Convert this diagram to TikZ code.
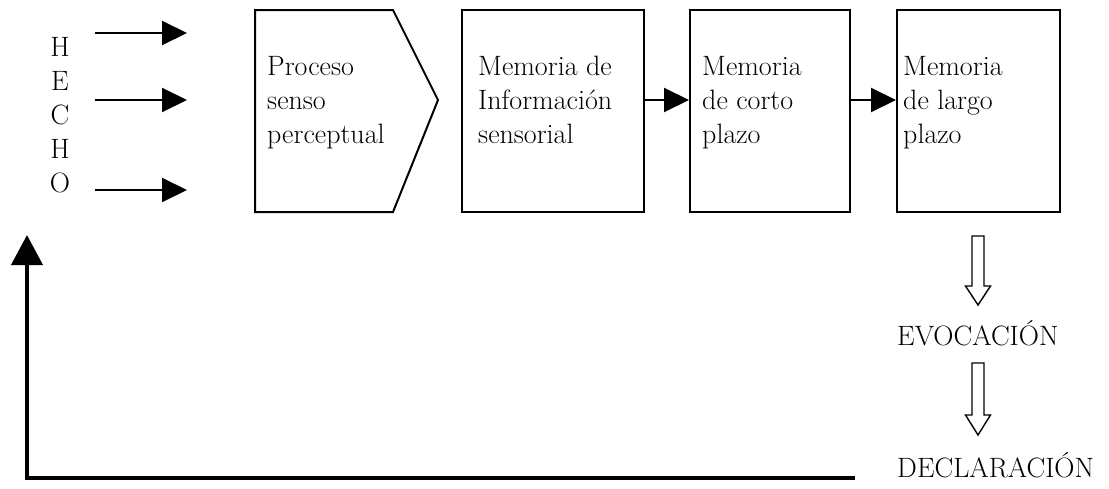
\documentclass[tikz,border=0pt]{standalone}
\usepackage{fontspec}
\usepackage{tikz}
\usetikzlibrary{shapes,arrows,arrows.meta,positioning,calc}

\begin{document}
\begin{tikzpicture}[x=1pt,y=-1pt,
    font=\fontsize{28}{34}\selectfont,
    membox/.style={shape=rectangle,draw,line width=2pt,minimum height=202pt,inner sep=0pt},
    memtext/.style={anchor=north west,align=left,inner sep=0pt},
    flecha/.style={line width=2pt,-{Triangle[length=25pt,width=24pt]}}]
    \useasboundingbox (0,0) rectangle (1109,488);

    % hecho
    \node[align=center,inner sep=0pt] (hecho) at (60,115) {H\\E\\C\\H\\O};
    \foreach \y [count=\i] in {33,100,190} {
      \coordinate (s\i) at (95,\y);
      \coordinate (e\i) at (187,\y);
      \draw[flecha] (s\i) -- (e\i);
    }

    % proceso
    \coordinate (p1) at (255,10);
    \coordinate (p2) at (393,10);
    \coordinate (p3) at (438,100);
    \coordinate (p4) at (393,212);
    \coordinate (p5) at (255,212);
    \draw[line width=2pt,line join=miter] (p1) -- (p2) -- (p3) -- (p4) -- (p5) -- cycle;
    \node[memtext] (proc) at (267,56) {Proceso\\senso\\perceptual};

    % define boxes
    \node[membox,minimum width=182pt] (m1) at (553,111) {};
    \node[membox,minimum width=160pt] (m2) at (770,111) {};
    \node[membox,minimum width=163pt] (m3) at (978.5,111) {};
    \node[memtext] (t1) at (478,56) {Memoria de\\Información\\sensorial};
    \node[memtext] (t2) at (702,56) {Memoria\\de corto\\plazo};
    \node[memtext] (t3) at (903,56) {Memoria\\de largo\\plazo};

    % arrows
    \coordinate (lvl) at (0,100);
    \draw[flecha] (m1.east |- lvl) -- (m2.west |- lvl);
    \draw[flecha] (m2.east |- lvl) -- (m3.west |- lvl);

    % output
    \node[anchor=west,inner sep=0pt] (evo) at (897,333) {EVOCACIÓN};
    \node[anchor=west,inner sep=0pt] (dec) at (897,465) {DECLARACIÓN};
    \foreach \a/\b/\c in {236/286/305, 363/415/435} {
      \draw[line width=1.4pt,line join=miter]
        (972,\a) -- (972,\b) -- (965.5,\b) -- (978,\c) -- (990.5,\b)
        -- (984,\b) -- (984,\a) -- cycle;
    }

    % return
    \coordinate (fin) at (855,478);
    \coordinate (esq) at (27,478);
    \coordinate (ini) at (27,235);
    \draw[line width=4pt,-{Triangle[length=30pt,width=31pt]}] (fin) -- (esq) -- (ini);
  \end{tikzpicture}
\end{document}
